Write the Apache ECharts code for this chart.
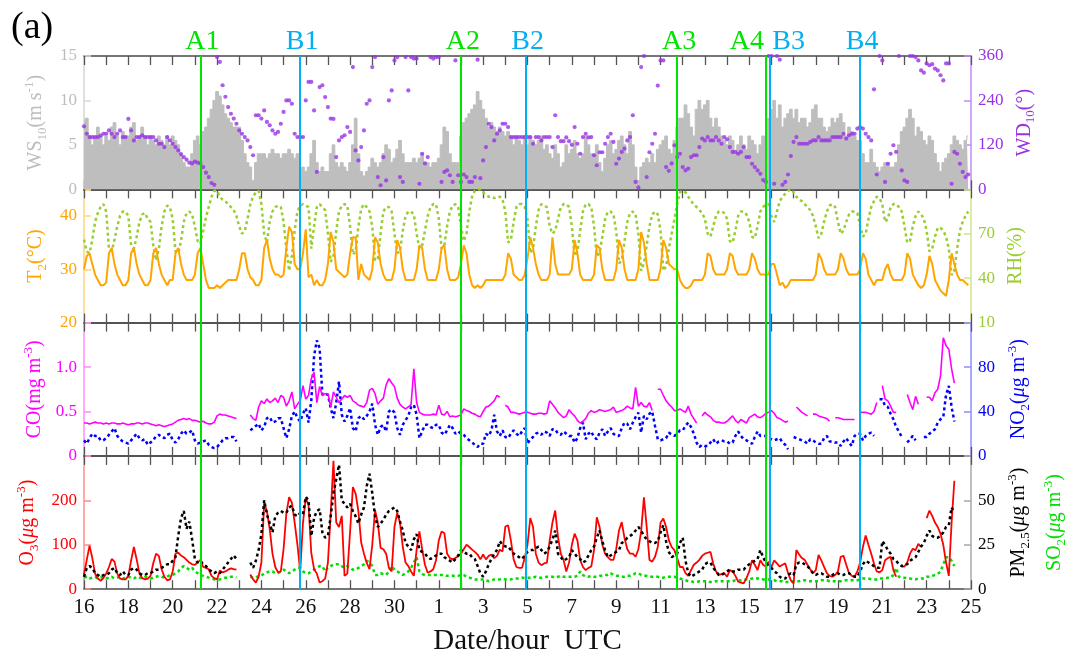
<!DOCTYPE html>
<html>
<head>
<meta charset="utf-8">
<script src="https://cdn.jsdelivr.net/npm/echarts@6/dist/echarts.min.js"></script>
<style>
html, body { margin: 0; padding: 0; background: #fff; }
#chart { width: 1078px; height: 662px; }
</style>
</head>
<body>
<div id="chart"></div>
<script>
// Hourly-station record, 16 Jul 00 UTC to 25 Aug 00 UTC, sampled every 3 h (8 values per day).
const stepHours = 3;
const dateTicks = ['16','18','20','22','24','26','28','30','1','3','5','7','9','11','13','15','17','19','21','23','25'];

// Event markers (hours after 16 Jul 00 UTC)
const eventNames = ['A1','B1','A2','B2','A3','A4','B3','B4'];
const eventHours = [126, 234, 408, 478, 642, 738, 742, 840];

// Axis tick values that carry a label
const wsTicks = [0, 5, 10, 15];
const wdTicks = [0, 120, 240, 360];
const t2Ticks = [20, 30, 40];
const rhTicks = [10, 40, 70];
const coTicks = [0, 0.5, 1.0];
const no2Ticks = [0, 40, 80];
const o3Ticks = [0, 100, 200];
const pmTicks = [0, 25, 50];

// 10-m wind speed (m/s)
const ws10 = [
  7,8,6,5,6,7,6,5,  6,5.5,7,7.5,6,5,6.5,6,  6,7,7.5,5.5,6,7,6,5,  6,5.5,5,6,5.5,5,6,5,
  6,5.5,5,4,3,2.5,2.5,4,  5.5,6,5,6.5,7,8,9,10,  11,10.5,9.5,8.5,8,7.5,7,7,  7,5.5,4,3,2.5,1,3,4,
  4,4,3.5,4,4.5,4,4,3.5,  4,4,4.5,4,3.5,4,2,2.5,  2,2.5,4,5.5,3,2,2.5,2,  2,4,5,3,2.5,3,2.5,2,
  3,5,8,4,2,1.5,2,2.5,  3.5,3,2.5,3,4,5,4.5,3,  3.5,4.5,5.5,4,3,3,3,3.5,  3,3.5,4,3,3,2.5,3,3,
  3.5,5,7,6.5,4,3,3,3,  6,7.5,8,8.5,9,9.5,11,10,  9,8,7,7.5,7,6.5,7,6.5,  6,6.5,6,5,6,5.5,5,6,
  5,6,5.5,5,5.5,6,4.5,5,  4,3.5,5,4,2.5,3,5,4,  4.5,5.5,4,3.5,4,6,5,4,  4,5,3,2,3.5,5,5.5,4,
  4.5,5.5,6,5,4,6.5,5,2.5,  1,2.5,3,3.5,3,4,3,4.5,  5,5.5,6,4.5,4,5.5,7,8,  8,9.5,8.5,7,6,9,10,9,
  9.5,10,8,7,8,7,6,5.5,  5,6,5.5,4,5,6,5,4.5,  6,5.5,5,4,5,6,5.5,8,  9,10,8,9.5,7,8,8.5,9,
  8,9,7.5,8,8,7,7.5,9,  9.5,8,8,7,6.5,7,8,7.5,  8,8.5,7.5,6,7,6.5,6,5.5,  5.5,4,3,3,4.5,3,2.5,2,
  2.5,3,3,2.5,2.5,3,5,6.5,  7,8,9,8,6,7,6.5,5.5,  5,6,5.5,4,3,2,3,3.5,  4,5,6,5.5,5,4.5,5.5,6
];

// 10-m wind direction (degrees)
const wd10 = [
  170,150,141,141,141,141,145,150,  150,159,150,141,150,159,141,141,  190,159,132,141,141,146,141,141,  141,141,132,123,123,114,141,132,
  123,114,105,95,87,80,72,70,  75,72,70,60,45,33,17,12,  357,344,281,250,222,204,191,177,  159,150,141,132,114,92,200,200,
  191,213,182,173,159,150,155,177,  209,240,240,231,150,141,141,141,  240,290,290,213,47,276,281,249,  222,191,190,87,132,141,146,168,
  155,330,105,78,114,159,231,240,  330,357,33,11,87,24,240,267,  348,357,33,20,357,267,357,353,  353,15,96,70,87,357,353,357,
  357,20,47,51,38,20,348,38,  20,40,33,20,20,33,350,30,  78,114,177,168,132,150,159,177,  177,168,141,141,141,141,141,141,
  141,141,123,141,141,132,141,141,  141,114,200,141,130,130,140,130,  120,168,123,96,141,150,140,141,  92,65,100,100,123,141,150,128,
  69,83,101,110,132,141,200,20,  5,330,360,33,100,123,150,280,  348,348,60,50,70,119,87,96,  60,51,56,87,92,92,114,137,
  132,141,132,132,141,132,123,141,  135,114,101,101,96,101,114,87,  87,69,60,51,42,25,20,360,  360,15,360,350,12,20,40,90,
  128,141,123,123,123,123,128,132,  132,141,132,132,132,132,141,141,  141,141,150,137,146,150,150,164,  168,164,150,141,132,270,40,360,
  348,20,69,96,119,101,360,51,  24,20,360,360,357,348,321,315,  340,335,338,326,321,308,294,340,  340,15,101,96,69,47,33,40
];

// 2-m temperature (deg C)
const t2 = [
  30,32.5,33,31,29,28,27,27,  27.5,33,34,31,29,28,27,27,  28,33,34,31,29,28,27,27,  28,33,34,31,29,28,27,28,
  28,33,34,31,29,28,28,28,  29,33,34,31,28,26.5,26.5,26.5,  27,26.5,27,27.5,28,28,28,28,  30,33,33,30,28.5,28,27,27,
  28,34,35.5,32,30,29,29,28.5,  29,34,38,37,31,30,30,33,  37.5,28.5,29,27,28,27,27,28,  31,37,35,30,29.5,29,28.5,29,
  33,36,36,28,31,29,28.5,28,  30,36,35,31,29,28,28,28,  30,35.5,34,30,28,28,28,28,  30,34.5,34,30,28,28,28,28,
  30,34,34.5,30,28,28,28,28.5,  31,34.5,33,29,27,26.5,27,26.5,  27,28,28,28,28,28,28,28,  29,33,32,29,28.5,28,28,29,
  32,36,34,31,29,28,28,28,  29,36,31,29,29,29,29,29,  30,35.5,33,29,28,28,28,28,  29,34.5,34,30,28,28,28,28,
  30,35.5,34,30,28,28,28,28,  30,37,35,31,28,28,28,28,  30,35.5,34,31,30.5,30,30,28,  27,26.5,26.5,27,28,28,28,28,
  29,33,32.5,30,29,29,29,29,  30,33,32.5,30,29,29,29,29,  30,33,32,30,29,29,29,29,  31,31,29,27,27.5,26.5,27,28,
  28,28,28,28,28,28,28,28,  29,33,32,30,29,29,29,29,  30,33,32,30,29,29,29,29,  30,33,32,29,28,27,28,28,
  28,30,31,29,28,28,28,28,  29,33,32,29,28,27,26.5,27,  29,32.5,31,28,27,26,25.5,25,  28,33,31,29,28,28,27.5,27
];

// Relative humidity (%)
const rh = [
  66,58,57,66,78,84,88,90,  85,60,58,66,75,82,85,85,  82,62,60,68,78,83,84,80,  78,62,52,60,75,85,89,88,
  80,58,57,65,78,84,85,83,  75,65,63,72,81,88,95,99,  99,95,93,92,90,88,86,82,  75,70,72,80,90,95,98,99,
  90,70,64,78,85,88,89,88,  78,60,45,55,72,85,89,90,  89,88,60,75,88,90,88,86,  70,51,55,72,85,89,90,89,
  75,56,58,75,87,90,88,85,  75,52,53,70,85,88,88,85,  70,57,58,72,82,85,85,83,  70,60,62,72,82,88,90,90,
  80,60,62,75,85,89,90,88,  75,65,70,85,95,99,100,100,  98,96,95,95,94,95,95,93,  85,64,66,78,88,90,90,88,
  80,57,60,75,86,90,89,88,  75,70,72,80,88,90,90,88,  75,55,58,72,85,90,90,88,  75,55,57,68,80,85,85,83,
  72,50,52,65,78,84,85,83,  70,45,50,62,75,83,85,83,  72,45,48,60,70,80,90,98,  99,98,95,92,90,88,86,84,
  80,70,68,75,82,85,85,84,  80,65,64,72,82,85,85,83,  78,68,67,75,85,88,90,90,  82,78,85,92,95,97,99,100,
  98,95,93,92,90,88,86,82,  75,67,70,78,85,89,90,88,  78,70,72,78,83,85,85,84,  75,68,70,80,88,92,95,94,
  90,78,80,88,90,90,88,85,  75,64,65,75,82,85,83,80,  72,58,60,68,74,74,72,68,  60,42,45,60,72,78,82,85
];

// CO (mg/m3)
const co = [
  .37,.37,.36,.37,.38,.37,.37,.36,  .37,.36,.37,.37,.36,.36,.37,.36,  .35,.36,.36,.37,.37,.36,.37,.37,  .36,.35,.34,.35,.34,.33,.34,.35,
  .36,.38,.40,.41,.42,.41,.42,.40,  .40,.39,.38,.39,.37,.36,.36,.38,  .45,.47,.46,.46,.45,.44,.43,.42,  null,null,null,null,.46,.42,.40,.55,
  .62,.59,.64,.60,.62,.65,.60,.68,  .66,.56,.62,.72,.53,.58,.62,.79,  .64,.68,.87,.94,.60,.78,.68,.70,  .70,.55,.72,.66,.60,.64,.68,.66,
  .68,.62,.60,.57,.56,.55,.60,.74,  .76,.70,.58,.62,.65,.80,.87,.82,  .78,.65,.58,.55,.53,.55,.58,.98,  .60,.49,.47,.46,.46,.46,.47,.46,
  .57,.47,.46,.50,.44,.45,.44,.45,  .46,.53,.51,.50,.48,.47,.45,.44,  .50,.55,.56,.59,.62,.68,.66,null,  .57,.55,.49,.49,.48,.47,.48,.49,
  .49,.48,.47,.47,.48,.48,.47,.48,  .62,.58,.54,.49,.46,.43,.45,.52,  .48,.45,.40,.37,.39,.42,.48,.51,  .49,.50,.52,.51,.50,.51,.52,.55,
  .49,.50,.51,.53,.56,.54,.53,.77,  .56,.60,.56,.55,.60,.51,null,.75,  .75,.68,.62,.58,.55,.51,.51,.53,  .51,.49,.56,.47,.42,.37,null,.45,
  .49,.46,.44,.40,.38,.38,.37,.37,  .39,.42,.45,.40,.37,.41,.39,.37,  .43,.45,.47,.44,.43,.45,.48,.49,  .51,.48,.43,.42,.40,.38,.39,null,
  null,.55,.52,.49,.47,.45,null,.47,  .47,.45,.44,.43,.42,.39,null,.43,  .43,.42,.41,.41,.41,.41,.41,null,  .49,.49,.49,.48,.47,.50,.60,null,
  .79,.64,.62,.56,.49,.49,null,null,  null,.69,.60,.52,.67,.58,null,null,  .66,.66,.62,.71,.75,.90,1.33,1.24,  1.20,.98,.82
];

// NO2 (ug/m3)
const no2 = [
  14,11,16,20,18,18,14,14,  16,19,22,25,18,15,13,12,  11,14,17,20,16,14,15,10,  12,14,18,19,17,16,19,20,
  14,12,15,20,23,20,21,23,  14,11,12,13,14,10,8,7,  8,11,14,16,16,17,17,13,  null,null,null,null,23,25,27,29,
  23,26,34,35,30,31,34,34,  25,16,24,36,40,34,31,38,  43,30,50,90,104,97,55,56,  55,43,34,48,67,37,31,36,
  43,25,22,34,36,33,36,40,  47,28,19,26,28,22,40,42,  39,25,19,28,32,36,44,46,  37,16,22,28,28,26,25,28,
  28,21,19,23,28,25,20,22,  20,19,16,14,12,10,8,11,  11,20,18,23,37,22,18,23,  17,16,20,23,20,18,22,25,
  11,15,17,20,21,19,22,21,  18,24,24,20,19,22,20,18,  18,12,16,25,30,15,20,22,  17,15,21,24,18,22,25,20,
  18,18,25,30,29,24,30,35,  39,21,36,33,38,40,27,15,  14,15,16,21,19,18,20,23,  23,27,30,26,20,12,8,10,
  9,9,12,15,11,13,14,13,  13,11,12,18,22,18,15,14,  12,11,17,22,18,18,18,16,  15,14,15,16,12,10,6,null,
  17,16,15,14,13,11,15,14,  12,11,11,16,18,13,13,12,  12,9,13,16,12,9,18,20,  20,14,18,20,21,18,null,51,
  51,45,44,38,33,26,22,17,  null,12,15,18,14,null,null,17,  17,20,22,24,30,33,35,55,  63,44,31
];

// O3 (ug/m3)
const o3 = [
  33,66,98,70,35,24,19,25,  35,50,68,62,35,24,22,22,  30,65,95,67,35,25,22,24,  30,59,80,75,45,28,20,22,
  40,80,82,76,72,66,60,56,  55,60,66,50,48,45,30,25,  22,42,38,40,44,47,45,44,  null,null,null,null,33,22,15,28,
  60,195,175,135,80,50,38,40,  90,170,207,195,150,100,40,150,  205,190,81,45,35,15,18,24,  60,170,289,150,140,165,30,35,
  130,230,215,175,105,80,59,45,  100,178,150,93,90,80,48,40,  140,172,150,96,60,52,40,30,  89,130,90,55,37,40,45,65,
  110,130,126,80,70,67,70,74,  80,90,100,95,89,84,78,67,  78,67,75,78,70,75,89,85,  141,144,110,67,50,48,48,70,
  100,160,140,80,60,54,58,60,  110,150,177,117,80,66,40,60,  100,125,110,66,50,43,48,51,  88,162,140,100,80,72,66,66,
  90,132,151,115,90,80,80,73,  90,130,207,140,66,62,73,95,  150,159,140,110,95,88,70,50,  50,36,30,43,55,60,66,75,
  80,82,84,58,40,32,34,36,  28,43,40,30,17,15,13,25,  40,65,55,43,65,55,51,62,  50,65,58,51,55,58,36,20,
  13,88,78,70,66,55,45,36,  43,77,65,50,36,30,28,32,  40,73,75,55,36,30,28,40,  60,95,121,100,80,58,40,38,
  43,65,70,73,43,28,null,51,  51,60,80,91,88,102,95,null,  160,177,165,150,140,125,100,60,  30,150,244
];

// PM2.5 (ug/m3)
const pm25 = [
  7,12,13,12,9,8,7,8,  8,9,11,12,9,8,10,8,  8,11,12,11,9,8,8,9,  9,10,11,11,12,13,14,14,
  16,18,30,40,44,34,38,28,  17,15,16,14,13,11,10,9,  10,9,11,13,15,17,19,17,  null,null,null,null,15,12,16,22,
  31,50,42,37,32,41,43,44,  43,43,46,47,42,41,43,42,  52,50,30,40,44,45,32,29,  30,41,54,62,70,50,48,46,
  48,44,41,37,42,46,58,65,  54,41,35,37,39,42,44,45,  46,44,38,33,26,24,22,28,  31,22,21,20,18,17,18,19,
  20,20,18,17,16,15,17,19,  22,21,20,20,18,17,13,9,  7,10,14,17,20,22,27,25,  24,24,22,20,19,18,17,19,
  21,22,22,23,24,22,20,21,  24,28,33,20,18,16,17,18,  22,20,18,17,15,16,19,22,  24,29,33,27,22,18,19,20,
  21,22,26,27,29,30,31,33,  35,33,30,28,27,26,26,27,  32,36,27,21,18,19,20,26,  29,16,9,7,8,9,10,11,
  14,15,15,12,10,8,8,9,  10,11,10,10,11,11,11,13,  14,15,16,17,22,18,15,13,  12,10,9,7,6,6,8,9,
  8,14,15,15,14,13,11,9,  8,9,9,8,7,7,8,9,  9,8,8,9,9,8,7,7,  10,14,16,15,14,13,12,12,
  27,25,22,20,17,16,14,13,  14,14,16,17,18,21,24,26,  30,33,30,29,29,30,32,35,  36,46,43
];

// SO2 (ug/m3)
const so2 = [
  6.5,7,6,6.5,7,6,6.5,7,  6,6.5,7,6,6.5,7,6,6.5,  7,6.5,6,7,6.5,6,7,6.5,  6,6.5,7,7.5,7,6.5,7,8,
  8,9,10,12,13,12,11,12,  10,9,8,7.5,7,6.5,6,5.5,  5.5,5.5,6,6.5,6.5,7,7,6.5,  null,null,null,null,7,6.5,6.5,7.5,
  7.5,9,9.5,10,10,9,9,10,  11,10,9,10,11,12,12,10,  9,9,10,11,12,13,13,10,  12,13,14,14,14,13,12,13,
  12,11,11,12,13,14,16,15,  13,8,8,9,8.5,8,10,13,  11,10,9,8,9,10,12,15,  18,10,8.5,8,8,8,8,8,
  8,8,8,7.5,7.5,7.5,7.5,7.5,  8,8,7,6.5,6,5.5,5.5,5.5,  5.5,5,4.5,5,5.5,5.5,5.5,6,  5.5,5.5,5.5,6,6,6,6.5,6.5,
  6.5,6.5,6.5,7,6.5,6.5,6.5,7,  7,7,6.5,7,7.5,7,7,7,  7,7,7.5,10,8,7,7,7.5,  7,7,7.5,7.5,8,8,9,8,
  7.5,7.5,7,7,7.5,7.5,8,9,  9,8,7.5,7.5,7,7,7,7,  6.5,6.5,7,7,7,7,6.5,6,  5.5,5,4.5,4.5,4,4,4.5,4.5,
  4.5,4.5,4,4,4.5,4.5,4.5,4.5,  4.5,4.5,4.5,5,5,5,5.5,5.5,  5.5,6,6.5,6,6,5.5,5.5,5.5,  5,5,4.5,4.5,4.5,4,4,4,
  4.5,4.5,4.5,5,5,4.5,4.5,4.5,  4.5,4.5,5,5,5,4.5,4.5,4.5,  4.5,4.5,5,5,5,5,5,5,  5.5,6,6,6,5.5,5.5,5.5,6,
  6,6,6.5,6.5,8,12,7,6.5,  6.5,6,6,5.5,5.5,6,6,6,  7,7,7.5,8,8.5,10,14,18,  18,16,13
];

const FONT = 'Liberation Serif';
const GREEN_EVT = '#00e400';
const BLUE_EVT = '#00b0f0';

function pairs(arr) { return arr.map((v, i) => [i * stepHours, v]); }

function nameStyle(color) {
  return {
    color: color, fontFamily: FONT, fontSize: 20,
    rich: {
      n: { color: color, fontFamily: FONT, fontSize: 20, lineHeight: 26, verticalAlign: 'middle' },
      i: { color: color, fontFamily: FONT, fontSize: 20, lineHeight: 26, verticalAlign: 'middle', fontStyle: 'italic' },
      b: { color: color, fontFamily: FONT, fontSize: 13, lineHeight: 12, verticalAlign: 'bottom' },
      p: { color: color, fontFamily: FONT, fontSize: 13, lineHeight: 12, verticalAlign: 'top' }
    }
  };
}

function yAxisDef(o) {
  return {
    type: 'value', gridIndex: o.grid, position: o.pos, min: o.min, max: o.max, interval: o.interval,
    axisLine: { show: true, onZero: false, lineStyle: { color: o.spine, width: 1.5 } },
    axisTick: { show: true, inside: true, length: 7, lineStyle: { color: o.spine, width: 1.5 } },
    axisLabel: {
      show: true, color: o.color, fontFamily: FONT, fontSize: 17, margin: 7,
      showMinLabel: true, showMaxLabel: true,
      formatter: function (v) {
        return o.ticks.some(function (s) { return Math.abs(s - v) < 1e-6; }) ? (o.fmt ? o.fmt(v) : String(v)) : '';
      }
    },
    splitLine: { show: false },
    name: o.name, nameLocation: 'middle', nameRotate: 90, nameGap: o.gap,
    nameTextStyle: nameStyle(o.color)
  };
}

function xAxisDef(grid, pos, withLabels) {
  const ax = {
    type: 'value', gridIndex: grid, position: pos, min: 0, max: 960, interval: 24,
    axisLine: { show: true, onZero: false, lineStyle: { color: '#4a4a4a', width: 1.5 } },
    axisTick: { show: true, inside: true, length: 9, lineStyle: { color: '#555', width: 1.3 } },
    axisLabel: {
      show: withLabels, color: '#111', fontFamily: FONT, fontSize: 21, margin: 8,
      showMinLabel: true, showMaxLabel: true,
      formatter: function (v) { return v % 48 === 0 ? dateTicks[v / 48] : ''; }
    },
    splitLine: { show: false }
  };
  if (withLabels) {
    ax.name = 'Date/hour  UTC';
    ax.nameLocation = 'middle';
    ax.nameGap = 38;
    ax.nameTextStyle = { color: '#111', fontFamily: FONT, fontSize: 29 };
  }
  return ax;
}

function eventLines(withLabels) {
  return {
    silent: true, symbol: ['none', 'none'], animation: false, precision: 1,
    data: eventHours.map(function (h, i) {
      const name = eventNames[i];
      const col = name.charAt(0) === 'A' ? GREEN_EVT : BLUE_EVT;
      let pad = [0, 0, 0, 4];
      if (name === 'A4') pad = [0, 38, 0, 0];
      if (name === 'B3') pad = [0, 0, 0, 38];
      return {
        name: name, xAxis: h,
        lineStyle: { color: col, width: 2, type: 'solid' },
        label: { show: withLabels, position: 'end', formatter: name, color: col,
                 fontFamily: FONT, fontSize: 28, distance: 0, padding: pad }
      };
    })
  };
}

const panelTop = [56, 189.3, 322.6, 455.9];
const panelHeight = 133.3;

const option = {
  animation: false,
  backgroundColor: '#fff',
  title: { text: '(a)', left: 6, top: 4, textStyle: { fontFamily: FONT, fontSize: 38, fontWeight: 'normal', color: '#000' } },
  grid: panelTop.map(function (t) { return { left: 84, right: 107, top: t, height: panelHeight }; }),
  xAxis: [
    xAxisDef(0, 'bottom', false), xAxisDef(0, 'top', false),
    xAxisDef(1, 'bottom', false), xAxisDef(1, 'top', false),
    xAxisDef(2, 'bottom', false), xAxisDef(2, 'top', false),
    xAxisDef(3, 'bottom', true), xAxisDef(3, 'top', false)
  ],
  yAxis: [
    yAxisDef({ grid: 0, pos: 'left', min: 0, max: 15, interval: 5, ticks: wsTicks, color: '#bdbdbd', spine: '#d6d6d6',
      name: '{n|WS}{b|10}{n|(m s}{p|-1}{n|)}', gap: 32 }),
    yAxisDef({ grid: 0, pos: 'right', min: 0, max: 360, interval: 120, ticks: wdTicks, color: '#9932e6', spine: '#c48cf5',
      name: '{n|WD}{b|10}{n|(°)}', gap: 37 }),
    yAxisDef({ grid: 1, pos: 'left', min: 20, max: 45, interval: 10, ticks: t2Ticks, color: '#ffa500', spine: '#ffd27a',
      name: '{n|T}{b|2}{n|(°C)}', gap: 31 }),
    yAxisDef({ grid: 1, pos: 'right', min: 10, max: 100, interval: 30, ticks: rhTicks, color: '#9acd32', spine: '#cce68f',
      name: '{n|RH(%)}', gap: 31 }),
    yAxisDef({ grid: 2, pos: 'left', min: 0, max: 1.5, interval: 0.5, ticks: coTicks, color: '#ff00ff', spine: '#ff8cff',
      fmt: function (v) { return v === 0 ? '0' : v.toFixed(1); },
      name: '{n|CO(mg m}{p|-3}{n|)}', gap: 31 }),
    yAxisDef({ grid: 2, pos: 'right', min: 0, max: 120, interval: 40, ticks: no2Ticks, color: '#0000ff', spine: '#8c8cff',
      name: '{n|NO}{b|2}{n|(}{i|μ}{n|g m}{p|-3}{n|)}', gap: 33 }),
    yAxisDef({ grid: 3, pos: 'left', min: 0, max: 300, interval: 100, ticks: o3Ticks, color: '#ff0000', spine: '#ff8c8c',
      name: '{n|O}{b|3}{n|(}{i|μ}{n|g m}{p|-3}{n|)}', gap: 43 }),
    yAxisDef({ grid: 3, pos: 'right', min: 0, max: 75, interval: 25, ticks: pmTicks, color: '#000000', spine: '#a8a8a8',
      name: '{n|PM}{b|2.5}{n|(}{i|μ}{n|g m}{p|-3}{n|)}', gap: 33 }),
    {
      type: 'value', gridIndex: 3, position: 'right', min: 0, max: 75, interval: 25,
      axisLine: { show: false }, axisTick: { show: false }, axisLabel: { show: false }, splitLine: { show: false },
      name: '{n|SO}{b|2}{n|(}{i|μ}{n|g m}{p|-3}{n|)}', nameLocation: 'middle', nameRotate: 90, nameGap: 71,
      nameTextStyle: nameStyle('#00dd00')
    }
  ],
  series: [
    { name: 'WS10', type: 'line', xAxisIndex: 0, yAxisIndex: 0, data: pairs(ws10), step: 'middle', symbol: 'none',
      lineStyle: { color: '#bebebe', width: 1 }, areaStyle: { color: '#bebebe', opacity: 1 }, z: 1,
      markLine: eventLines(true) },
    { name: 'WD10', type: 'scatter', xAxisIndex: 0, yAxisIndex: 1, data: pairs(wd10), symbolSize: 4.2,
      itemStyle: { color: '#9932e6' }, z: 3 },
    { name: 'T2', type: 'line', xAxisIndex: 2, yAxisIndex: 2, data: pairs(t2), symbol: 'none',
      lineStyle: { color: '#ffa500', width: 2 }, z: 3, markLine: eventLines(false) },
    { name: 'RH', type: 'line', xAxisIndex: 2, yAxisIndex: 3, data: pairs(rh), symbol: 'none',
      lineStyle: { color: '#9acd32', width: 2.5, type: [3, 3] }, z: 2 },
    { name: 'CO', type: 'line', xAxisIndex: 4, yAxisIndex: 4, data: pairs(co), symbol: 'none',
      lineStyle: { color: '#ff00ff', width: 1.6 }, z: 3, markLine: eventLines(false) },
    { name: 'NO2', type: 'line', xAxisIndex: 4, yAxisIndex: 5, data: pairs(no2), symbol: 'none',
      lineStyle: { color: '#0000ff', width: 2.5, type: [3, 3] }, z: 2 },
    { name: 'O3', type: 'line', xAxisIndex: 6, yAxisIndex: 6, data: pairs(o3), symbol: 'none',
      lineStyle: { color: '#ff0000', width: 1.8 }, z: 3, markLine: eventLines(false) },
    { name: 'PM2.5', type: 'line', xAxisIndex: 6, yAxisIndex: 7, data: pairs(pm25), symbol: 'none',
      lineStyle: { color: '#000000', width: 2.5, type: [3, 3] }, z: 4 },
    { name: 'SO2', type: 'line', xAxisIndex: 6, yAxisIndex: 8, data: pairs(so2), symbol: 'none',
      lineStyle: { color: '#00dd00', width: 2.5, type: [3, 3] }, z: 2 }
  ]
};

const chart = echarts.init(document.getElementById('chart'), null, { renderer: 'canvas' });
chart.setOption(option);
</script>
</body>
</html>
